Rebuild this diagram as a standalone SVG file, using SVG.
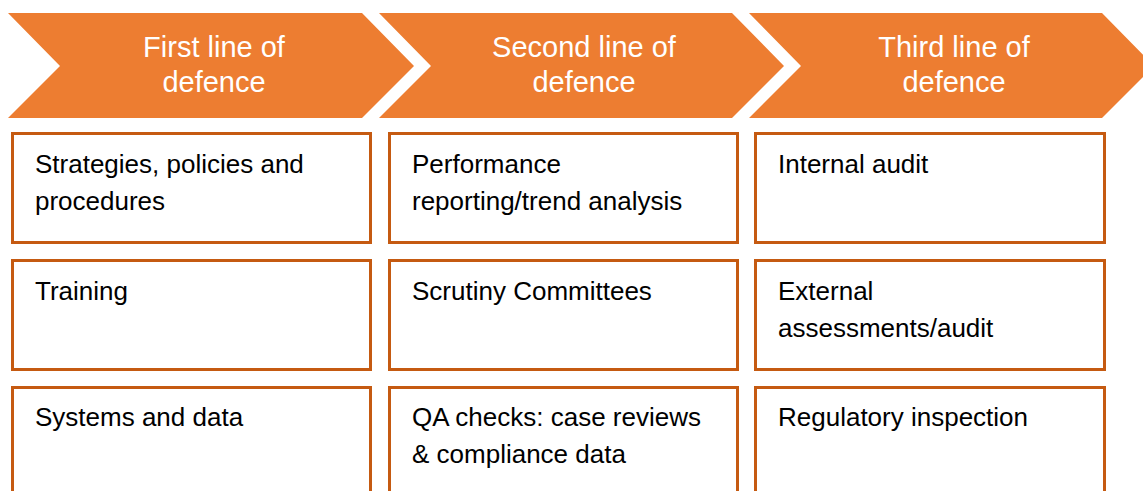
<svg xmlns="http://www.w3.org/2000/svg" width="1143" height="491" viewBox="0 0 1143 491">
<style>
.chev{fill:#ED7D31}
.hd{font-family:"Liberation Sans",Arial,sans-serif;font-size:29px;fill:#fff;text-anchor:middle}
.box{fill:#fff;stroke:#C55A11;stroke-width:3}
.tx{font-family:"Liberation Sans",Arial,sans-serif;font-size:26px;fill:#000}
</style>
<rect width="1143" height="491" fill="#fff"/>
<g id="h1"><polygon class="chev" points="8,13 362,13 414,66 362,118 8,118 60,66"/>
<text class="hd" x="214" y="57">First line of</text><text class="hd" x="214" y="92">defence</text></g>
<g id="h2"><polygon class="chev" points="379,13 732,13 784,66 732,118 379,118 431,66"/>
<text class="hd" x="584" y="57">Second line of</text><text class="hd" x="584" y="92">defence</text></g>
<g id="h3"><polygon class="chev" points="749,13 1102,13 1154,66 1102,118 749,118 801,66"/>
<text class="hd" x="954" y="57">Third line of</text><text class="hd" x="954" y="92">defence</text></g>
<g id="b11"><rect class="box" x="12.5" y="133.5" width="358" height="109"/><text class="tx" x="35" y="173">Strategies, policies and</text><text class="tx" x="35" y="210">procedures</text></g>
<g id="b12"><rect class="box" x="12.5" y="260.5" width="358" height="109"/><text class="tx" x="35" y="300">Training</text></g>
<g id="b13"><rect class="box" x="12.5" y="387.5" width="358" height="109"/><text class="tx" x="35" y="426">Systems and data</text></g>
<g id="b21"><rect class="box" x="389.5" y="133.5" width="348" height="109"/><text class="tx" x="412" y="173">Performance</text><text class="tx" x="412" y="210">reporting/trend analysis</text></g>
<g id="b22"><rect class="box" x="389.5" y="260.5" width="348" height="109"/><text class="tx" x="412" y="300">Scrutiny Committees</text></g>
<g id="b23"><rect class="box" x="389.5" y="387.5" width="348" height="109"/><text class="tx" x="412" y="426">QA checks: case reviews</text><text class="tx" x="412" y="463">&amp; compliance data</text></g>
<g id="b31"><rect class="box" x="755.5" y="133.5" width="349" height="109"/><text class="tx" x="778" y="173">Internal audit</text></g>
<g id="b32"><rect class="box" x="755.5" y="260.5" width="349" height="109"/><text class="tx" x="778" y="300">External</text><text class="tx" x="778" y="337">assessments/audit</text></g>
<g id="b33"><rect class="box" x="755.5" y="387.5" width="349" height="109"/><text class="tx" x="778" y="426">Regulatory inspection</text></g>
<g id="connectors"/>
</svg>
